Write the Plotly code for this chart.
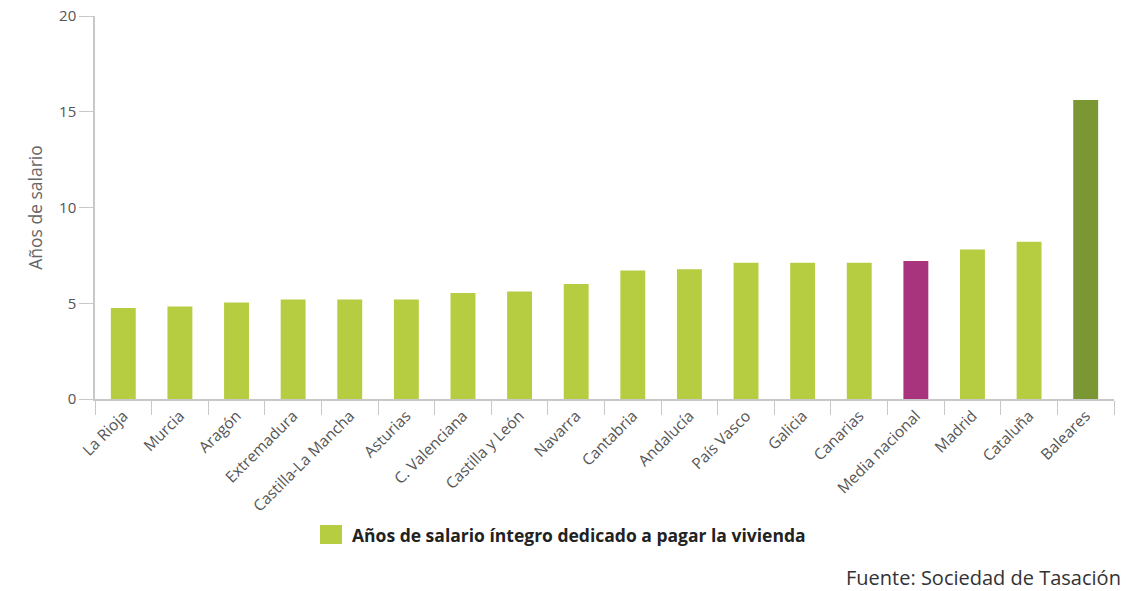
import plotly.graph_objects as go

regions = ["La Rioja", "Murcia", "Aragón", "Extremadura", "Castilla-La Mancha",
           "Asturias", "C. Valenciana", "Castilla y León", "Navarra", "Cantabria",
           "Andalucía", "País Vasco", "Galicia", "Canarias", "Media nacional",
           "Madrid", "Cataluña", "Baleares"]
years = [4.75, 4.83, 5.04, 5.2, 5.2, 5.2, 5.53, 5.61, 6.0, 6.71,
         6.78, 7.11, 7.11, 7.11, 7.2, 7.81, 8.21, 15.62]

GREEN = "#b6cd41"
MAGENTA = "#a8347e"
DARK = "#7b9733"
colors = [GREEN] * len(regions)
colors[regions.index("Media nacional")] = MAGENTA
colors[regions.index("Baleares")] = DARK

legend_label = "Años de salario íntegro dedicado a pagar la vivienda"
source_text = "Fuente: Sociedad de Tasación"
y_title = "Años de salario"

FONT = "Open Sans"

fig = go.Figure()
fig.add_trace(go.Bar(x=regions, y=years, marker=dict(color=colors, line=dict(width=0)),
                     showlegend=False))

fig.update_layout(
    width=1128, height=591,
    margin=dict(l=95, r=14, t=16, b=192),
    paper_bgcolor="white", plot_bgcolor="white",
    bargap=0.56,
    font=dict(family=FONT, color="#555555"),
    xaxis=dict(
        type="category", tickson="boundaries", ticks="outside", ticklen=14,
        tickcolor="#c8c8c8", tickwidth=1, showline=True, linecolor="#c8c8c8",
        linewidth=1.5, tickangle=-45, tickfont=dict(size=15.5, color="#555555"),
        showgrid=False, fixedrange=True, automargin=False,
    ),
    yaxis=dict(
        range=[0, 20], tickvals=[0, 5, 10, 15, 20], ticks="outside", ticklen=14,
        tickcolor="#c8c8c8", showline=True, linecolor="#c8c8c8", linewidth=1.5,
        showgrid=False, zeroline=False, tickfont=dict(size=15, color="#555555"),
        automargin=False,
        title=dict(text=y_title, font=dict(size=17.5, color="#666666"), standoff=12),
    ),
    shapes=[dict(type="rect", xref="paper", yref="paper",
                 x0=(320 - 95) / 1019, x1=(342 - 95) / 1019,
                 y0=(399 - 544) / 383, y1=(399 - 525) / 383,
                 fillcolor=GREEN, line=dict(width=0))],
    annotations=[
        dict(text="<b>" + legend_label + "</b>", xref="paper", yref="paper",
             x=(350 - 95) / 1019, y=(399 - 535) / 383, xanchor="left", yanchor="middle",
             showarrow=False, font=dict(size=17.5, color="#222222", family=FONT)),
        dict(text=source_text, xref="paper", yref="paper",
             x=(1123 - 95) / 1019, y=(399 - 577) / 383, xanchor="right", yanchor="middle",
             showarrow=False, font=dict(size=20, color="#333333", family=FONT)),
    ],
)

fig.write_html("out.html", config={"displayModeBar": False},
               post_script="document.body.style.margin='0';document.body.style.overflow='hidden';")
